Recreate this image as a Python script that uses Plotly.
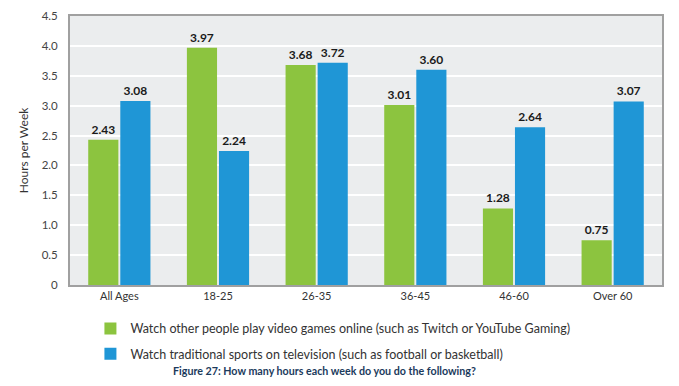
import plotly.graph_objects as go

categories = ["All Ages", "18-25", "26-35", "36-45", "46-60", "Over 60"]
games_online = [2.43, 3.97, 3.68, 3.01, 1.28, 0.75]
sports_tv = [3.08, 2.24, 3.72, 3.60, 2.64, 3.07]
series_names = [
    "Watch other people play video games online (such as Twitch or YouTube Gaming)",
    "Watch traditional sports on television (such as football or basketball)",
]
y_ticks = [0, 0.5, 1.0, 1.5, 2.0, 2.5, 3.0, 3.5, 4.0, 4.5]
y_tick_labels = ["0", "0.5", "1.0", "1.5", "2.0", "2.5", "3.0", "3.5", "4.0", "4.5"]
caption = "Figure 27: How many hours each week do you do the following?"

GREEN = "#8cc43f"
BLUE = "#1f96d6"
FONT = "Lato, 'Open Sans', sans-serif"

W, H = 671, 378  # page body has an 8px margin inside the 679x386 window

fig = go.Figure()
for i, (name, vals, col) in enumerate([(series_names[0], games_online, GREEN), (series_names[1], sports_tv, BLUE)]):
    fig.add_trace(go.Bar(
        x=categories, y=vals, name=name, legendgroup=f"g{i}",
        marker=dict(color=col, line=dict(width=0)),
        text=[f"{v:.2f}" for v in vals], textposition="outside",
        textfont=dict(family=FONT, size=12, color="#1a1a1a", weight="bold"),
        cliponaxis=False,
    ))

fig.update_layout(
    width=W, height=H,
    margin=dict(l=62, r=17, t=8, b=101, autoexpand=False),
    paper_bgcolor="white", plot_bgcolor="#ebedee",
    barmode="group", bargap=0.35, bargroupgap=0.06,
    font=dict(family=FONT, size=11.5, color="#333333"),
    showlegend=True,
    legend=dict(
        orientation="v", x=0.0345, xanchor="left",
        yref="container", y=0.1905, yanchor="top",
        font=dict(family=FONT, size=12.5, color="#333333"),
        traceorder="grouped", tracegroupgap=6,
        itemsizing="constant", bgcolor="rgba(0,0,0,0)",
    ),
    annotations=[dict(
        text="<b>" + caption + "</b>", xref="paper", yref="paper",
        x=0.43, y=-0.317, xanchor="center", yanchor="middle", showarrow=False,
        font=dict(family=FONT, size=10.7, color="#1b3a5c"),
    )],
)
fig.update_xaxes(
    showline=True, linecolor="#a0a0a0", linewidth=2, mirror=True,
    ticks="", tickfont=dict(size=11, color="#333333"), automargin=False,
)
fig.update_yaxes(
    range=[0, 4.5], tickvals=y_ticks, ticktext=y_tick_labels,
    showgrid=True, gridcolor="white", gridwidth=2,
    showline=True, linecolor="#a0a0a0", linewidth=2, mirror=True,
    zeroline=False, ticks="", ticklabelstandoff=8, automargin=False,
    tickfont=dict(size=11.5, color="#444444"),
    title=dict(text="Hours per Week", font=dict(size=12, color="#333333"), standoff=10),
)

fig.write_html("out.html")
